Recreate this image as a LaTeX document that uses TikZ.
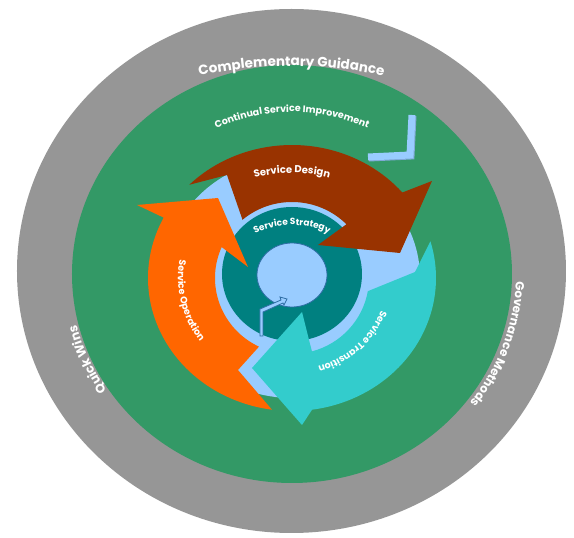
\documentclass[tikz,border=0pt]{standalone}
\usepackage{fontspec}
\setmainfont{Poppins}
\usetikzlibrary{decorations.text}

\definecolor{ringgray}{HTML}{969696}
\definecolor{csigreen}{HTML}{339966}
\definecolor{designbrown}{HTML}{993300}
\definecolor{operorange}{HTML}{FF6600}
\definecolor{transcyan}{HTML}{33CCCC}
\definecolor{strategyteal}{HTML}{008080}
\definecolor{paleblue}{HTML}{99CCFF}
\definecolor{shadeblue}{HTML}{7FA9D6}
\definecolor{edgeblue}{HTML}{2F6EA5}

\tikzset{
  curved/.style={decorate, decoration={text along path, text align=center, text color=white, text={#1}}}
}

\begin{document}
\begin{tikzpicture}[x=1pt, y=1pt]
\useasboundingbox (-292,-260) rectangle (282,278);

% rings
\fill [ringgray] (-0.5,7) ellipse [x radius=274.5, y radius=262];
\fill [csigreen] (0,4) ellipse [x radius=220, y radius=209];

\path [shift={(-0.5,7)}, curved={|\fontsize{13.5}{13.5}\selectfont\bfseries|Complementary Guidance}]
  (140:300 and 205) arc [start angle=140, end angle=40, x radius=300, y radius=205];
\path [shift={(0,4)}, curved={|\fontsize{12}{12}\selectfont\bfseries|Governance Methods}]
  (15:224 and 212) arc [start angle=15, end angle=-54, x radius=224, y radius=212];
\path [shift={(0,4)}, curved={|\fontsize{12.5}{12.5}\selectfont\bfseries|Quick Wins}]
  (228:222 and 211) arc [start angle=228, end angle=179, x radius=222, y radius=211];

% continual service improvement
\path [shift={(0,4)}, curved={|\fontsize{9.5}{9.5}\selectfont\bfseries|Continual Service Improvement}]
  (140:172 and 162) arc [start angle=140, end angle=40, x radius=172, y radius=162];
\coordinate (L1) at (120,163);
\coordinate (L2) at (118,123);
\coordinate (L3) at (76,121);
\draw [shadeblue, line width=7pt] ([shift={(1,-1)}]L1) -- ([shift={(1,-1)}]L2) -- ([shift={(1,-1)}]L3);
\draw [paleblue, line width=7pt] (L1) -- (L2) -- (L3);

% hub
\fill [paleblue] (0,0) ellipse [x radius=128, y radius=120];
\fill [strategyteal] (0,4) ellipse [x radius=70, y radius=67];
\filldraw [fill=paleblue, draw=edgeblue, thick] (0,3) ellipse [x radius=35, y radius=32];
\filldraw [fill=paleblue, draw=edgeblue, thick]
  (-32,-31) -- (-11,-22) -- (-12,-19) -- (-5,-21) -- (-8,-27) -- (-9,-25)
  -- (-29,-34) -- (-29,-58) -- (-32,-58) -- cycle;

% operation
\fill [operorange] (262:144 and 133) arc [start angle=262, end angle=153, x radius=144, y radius=133]
  -- (-155,73) -- (-74,80) -- (-44,11) -- (156:77 and 76)
  arc [start angle=156, end angle=244.6, x radius=77, y radius=76] -- (-54,-92) -- cycle;

% design
\fill [designbrown] (135.5:144 and 133) arc [start angle=135.5, end angle=40, x radius=144, y radius=133]
  -- (140,97) -- (108,25) -- (26,33) -- (45:77 and 76)
  arc [start angle=45, end angle=130, x radius=77, y radius=76] -- (-65,103) -- cycle;

% transition
\fill [transcyan] (16:144 and 133) arc [start angle=16, end angle=-82, x radius=144, y radius=133]
  -- (10,-147) -- (-40,-90) -- (10,-34) -- (-75:77 and 76)
  arc [start angle=-75, end angle=-10, x radius=77, y radius=76] -- (123,6) -- cycle;

% labels
\path [curved={|\fontsize{10}{10}\selectfont\bfseries|Service Design}]
  (150:125 and 105) arc [start angle=150, end angle=30, x radius=125, y radius=105];
\path [shift={(0,3)}, curved={|\fontsize{9}{9}\selectfont\bfseries|Service Strategy}]
  (160:66 and 50) arc [start angle=160, end angle=20, x radius=66, y radius=50];
\path [curved={|\fontsize{9.5}{9.5}\selectfont\bfseries|Service Operation}]
  (150:114 and 108) arc [start angle=150, end angle=236, x radius=114, y radius=108];
\path [curved={|\fontsize{9.5}{9.5}\selectfont\bfseries|Service Transition}]
  (0:95 and 92) arc [start angle=0, end angle=-94, x radius=95, y radius=92];

\end{tikzpicture}
\end{document}
